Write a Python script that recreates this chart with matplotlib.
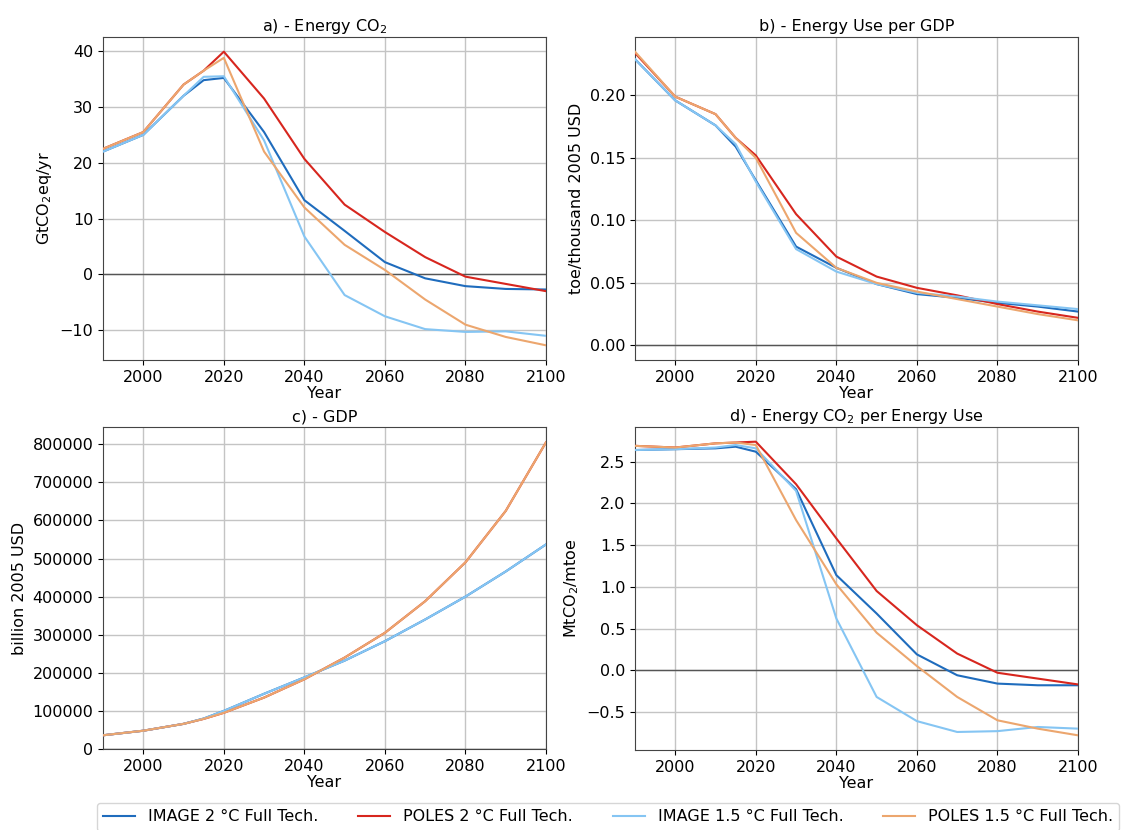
import matplotlib
matplotlib.use("Agg")
import matplotlib.pyplot as plt

plt.rcParams['font.family'] = ['DejaVu Sans']
plt.rcParams['font.size'] = 11.5

years = [1990, 2000, 2010, 2015, 2020, 2030, 2040, 2050, 2060, 2070, 2080, 2090, 2100]

labels = ["IMAGE 2 °C Full Tech.", "POLES 2 °C Full Tech.",
          "IMAGE 1.5 °C Full Tech.", "POLES 1.5 °C Full Tech."]
colors = ["#1f6cbd", "#d7261e", "#85c5f3", "#eca66e"]

# a) Energy CO2 (GtCO2eq/yr)
co2_image2 = [22.0, 25.0, 32.0, 34.8, 35.2, 25.5, 13.3, 7.8, 2.2, -0.7, -2.1, -2.6, -2.7]
co2_poles2 = [22.5, 25.5, 34.0, 36.5, 39.9, 31.5, 20.7, 12.5, 7.6, 3.1, -0.4, -1.7, -3.0]
co2_image15 = [22.0, 25.0, 32.0, 35.4, 35.5, 24.0, 6.8, -3.7, -7.5, -9.8, -10.3, -10.2, -11.0]
co2_poles15 = [22.5, 25.5, 34.0, 36.5, 38.8, 22.0, 12.0, 5.3, 0.8, -4.5, -9.0, -11.2, -12.7]

# b) Energy use per GDP (toe/thousand 2005 USD)
eu_image2 = [0.229, 0.196, 0.176, 0.159, 0.132, 0.079, 0.062, 0.049, 0.041, 0.038, 0.034, 0.031, 0.027]
eu_poles2 = [0.234, 0.199, 0.185, 0.166, 0.152, 0.105, 0.071, 0.055, 0.046, 0.040, 0.033, 0.027, 0.022]
eu_image15 = [0.229, 0.196, 0.176, 0.161, 0.131, 0.077, 0.059, 0.049, 0.042, 0.039, 0.035, 0.032, 0.029]
eu_poles15 = [0.235, 0.199, 0.185, 0.166, 0.150, 0.090, 0.062, 0.050, 0.043, 0.037, 0.031, 0.025, 0.020]

# c) GDP (billion 2005 USD)
gdp_image2 = [36000, 48000, 66000, 80000, 100000, 145000, 188000, 232000, 283000, 340000, 400000, 466000, 537000]
gdp_poles2 = [36000, 48000, 66000, 79000, 95000, 135000, 183000, 240000, 305000, 388000, 490000, 625000, 805000]
gdp_image15 = [36000, 48000, 66000, 80000, 100000, 145000, 188000, 232000, 283000, 340000, 400000, 466000, 537000]
gdp_poles15 = [36000, 48000, 66000, 79000, 95000, 135000, 183000, 240000, 305000, 388000, 490000, 625000, 805000]

# d) Energy CO2 per energy use (MtCO2/mtoe)
ci_image2 = [2.64, 2.65, 2.66, 2.68, 2.62, 2.17, 1.14, 0.68, 0.19, -0.06, -0.16, -0.18, -0.18]
ci_poles2 = [2.69, 2.67, 2.72, 2.73, 2.74, 2.23, 1.58, 0.95, 0.54, 0.20, -0.03, -0.10, -0.17]
ci_image15 = [2.64, 2.65, 2.67, 2.70, 2.66, 2.15, 0.62, -0.32, -0.61, -0.74, -0.73, -0.68, -0.70]
ci_poles15 = [2.69, 2.67, 2.72, 2.73, 2.70, 1.80, 1.03, 0.45, 0.05, -0.32, -0.60, -0.70, -0.78]

panels = [
    ("a) - Energy CO$_2$", "GtCO$_2$eq/yr", [co2_image2, co2_poles2, co2_image15, co2_poles15]),
    ("b) - Energy Use per GDP", "toe/thousand 2005 USD", [eu_image2, eu_poles2, eu_image15, eu_poles15]),
    ("c) - GDP", "billion 2005 USD", [gdp_image2, gdp_poles2, gdp_image15, gdp_poles15]),
    ("d) - Energy CO$_2$ per Energy Use", "MtCO$_2$/mtoe", [ci_image2, ci_poles2, ci_image15, ci_poles15]),
]

W, H = 1127, 830
fig = plt.figure(figsize=(W / 100, H / 100), dpi=100)
rects = [
    (103, 37, 546, 360),
    (635, 37, 1078, 360),
    (103, 427, 546, 749),
    (635, 427, 1078, 750),
]

handles = []
for i, ((title, ylabel, series), (x0, y0, x1, y1)) in enumerate(zip(panels, rects)):
    ax = fig.add_axes([x0 / W, 1 - y1 / H, (x1 - x0) / W, (y1 - y0) / H])
    ax.axhline(0, color="#555555", lw=1.0, zorder=1)
    hs = []
    for s, c, lab in zip(series, colors, labels):
        h, = ax.plot(years, s, color=c, lw=1.5, label=lab, zorder=3)
        hs.append(h)
    handles = hs
    ax.set_xlim(1990, 2100)
    if i == 2:
        ax.set_ylim(bottom=0)
    ax.set_xticks([2000, 2020, 2040, 2060, 2080, 2100])
    ax.grid(True, color="#c4c4c4", lw=1.0)
    ax.set_axisbelow(True)
    ax.set_title(title, fontsize=11.5, pad=4)
    ax.set_ylabel(ylabel)
    ax.set_xlabel("Year", labelpad=1)
    for sp in ax.spines.values():
        sp.set_color("#444444")

fig.legend(handles, labels, ncol=4, loc="upper left",
           bbox_to_anchor=(97 / W, 1 - 803 / H),
           frameon=True, fancybox=True, fontsize=11.5,
           borderaxespad=0.0, handlelength=2.0, columnspacing=2.5)

fig.savefig("out.png", dpi=100)
